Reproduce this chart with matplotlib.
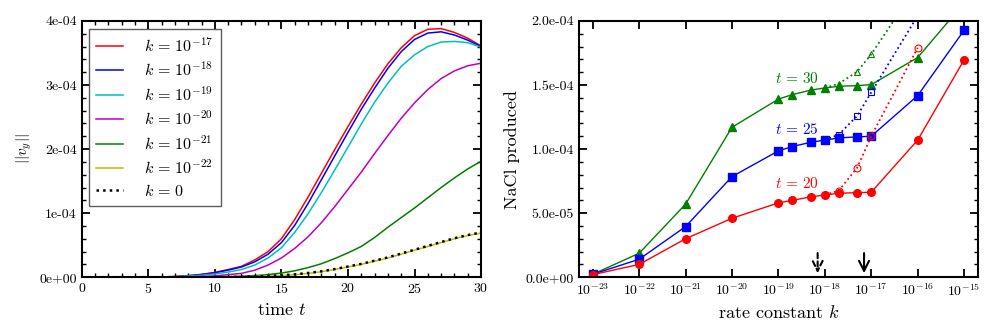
import matplotlib
matplotlib.use('Agg')
import matplotlib.pyplot as plt
import numpy as np
from matplotlib.ticker import MultipleLocator, FormatStrFormatter, LogLocator, NullLocator

plt.rcParams['font.family'] = 'serif'
plt.rcParams['font.serif'] = ['cmr10', 'DejaVu Serif']
plt.rcParams['mathtext.fontset'] = 'cm'
plt.rcParams['axes.unicode_minus'] = False
plt.rcParams['axes.formatter.use_mathtext'] = True

# left panel: ||v_y|| over time, in units of 1e-4
t = np.arange(0, 31)
vy_k17 = [0, 0, 0, 0, 0, 0.002, 0.005, 0.01, 0.025, 0.045, 0.075, 0.12, 0.17, 0.27, 0.40, 0.60,
          0.90, 1.25, 1.62, 1.99, 2.35, 2.70, 3.03, 3.33, 3.58, 3.77, 3.87, 3.88, 3.82, 3.73, 3.61]
vy_k18 = [0, 0, 0, 0, 0, 0.002, 0.005, 0.01, 0.022, 0.04, 0.07, 0.11, 0.16, 0.24, 0.36, 0.54,
          0.81, 1.15, 1.52, 1.89, 2.26, 2.62, 2.95, 3.26, 3.52, 3.71, 3.81, 3.83, 3.78, 3.70, 3.60]
vy_k19 = [0, 0, 0, 0, 0, 0.002, 0.004, 0.008, 0.018, 0.03, 0.05, 0.08, 0.12, 0.19, 0.30, 0.46,
          0.70, 0.99, 1.32, 1.67, 2.03, 2.39, 2.73, 3.03, 3.29, 3.47, 3.60, 3.67, 3.68, 3.66, 3.59]
vy_k20 = [0, 0, 0, 0, 0, 0.001, 0.002, 0.004, 0.007, 0.012, 0.02, 0.04, 0.06, 0.11, 0.19, 0.30,
          0.45, 0.63, 0.85, 1.10, 1.37, 1.64, 1.93, 2.21, 2.48, 2.72, 2.93, 3.10, 3.22, 3.30, 3.34]
vy_k21 = [0, 0, 0, 0, 0, 0, 0.001, 0.001, 0.002, 0.003, 0.005, 0.01, 0.015, 0.025, 0.04, 0.065,
          0.10, 0.15, 0.21, 0.29, 0.38, 0.48, 0.62, 0.78, 0.93, 1.08, 1.24, 1.40, 1.55, 1.69, 1.81]
vy_k22 = [0, 0, 0, 0, 0, 0, 0, 0, 0, 0, 0, 0.002, 0.005, 0.01, 0.015, 0.025,
          0.04, 0.06, 0.085, 0.12, 0.16, 0.20, 0.25, 0.30, 0.36, 0.42, 0.48, 0.54, 0.60, 0.65, 0.69]
vy_k0 = [0, 0, 0, 0, 0, 0, 0, 0, 0, 0, 0, 0.003, 0.006, 0.012, 0.018, 0.03,
         0.045, 0.066, 0.092, 0.127, 0.167, 0.208, 0.258, 0.309, 0.369, 0.429, 0.489, 0.549, 0.608, 0.658, 0.698]
left_series = [(vy_k17, 'r', '-', '$k\\,=\\,10^{-17}$'),
               (vy_k18, 'b', '-', '$k\\,=\\,10^{-18}$'),
               (vy_k19, 'c', '-', '$k\\,=\\,10^{-19}$'),
               (vy_k20, 'm', '-', '$k\\,=\\,10^{-20}$'),
               (vy_k21, 'g', '-', '$k\\,=\\,10^{-21}$'),
               (vy_k22, 'y', '-', '$k\\,=\\,10^{-22}$'),
               (vy_k0, 'k', ':', '$k\\,=\\,0$')]

# right panel: NaCl produced vs rate constant, in units of 1e-5
k = [1e-23, 1e-22, 1e-21, 1e-20, 1e-19, 2e-19, 5e-19, 1e-18, 2e-18, 5e-18, 1e-17, 1e-16, 1e-15]
nacl_t20 = [0.2, 1.0, 3.0, 4.6, 5.8, 6.0, 6.27, 6.42, 6.55, 6.6, 6.63, 10.7, 16.96]
nacl_t25 = [0.23, 1.4, 3.95, 7.85, 9.86, 10.2, 10.53, 10.7, 10.87, 10.95, 11.0, 14.17, 19.27]
nacl_t30 = [0.23, 1.87, 5.7, 11.7, 13.9, 14.25, 14.6, 14.77, 14.9, 14.95, 15.03, 17.14, 21.4]
k_alt = [1e-18, 2e-18, 5e-18, 1e-17, 1e-16]
alt_t20 = [6.42, 6.76, 8.56, 11.0, 17.9]
alt_t25 = [10.7, 11.13, 12.6, 14.43, 20.4]
alt_t30 = [14.77, 15.1, 16.05, 17.4, 22.8]

fig = plt.figure(figsize=(9.97, 3.32), dpi=100)
ax1 = fig.add_axes([0.082, 0.165, 0.4005, 0.772])
ax2 = fig.add_axes([0.5805, 0.165, 0.4005, 0.772])

for vals, c, ls, lab in left_series:
    ax1.plot(t, np.array(vals) * 1e-4, color=c, ls=ls, lw=1.1 if ls == '-' else 1.8, label=lab)
ax1.set_xlim(0, 30)
ax1.set_ylim(0, 4e-4)
ax1.xaxis.set_major_locator(MultipleLocator(5))
ax1.xaxis.set_minor_locator(MultipleLocator(1))
ax1.yaxis.set_major_locator(MultipleLocator(1e-4))
ax1.yaxis.set_minor_locator(MultipleLocator(2e-5))
ax1.yaxis.set_major_formatter(FormatStrFormatter('%.0e'))
ax1.set_xlabel('time $t$', fontsize=13)
ax1.set_ylabel('$||v_y||$', fontsize=11)
leg = ax1.legend(loc='upper left', fontsize=11.5, fancybox=False, handlelength=1.7,
                 handletextpad=1.3, labelspacing=0.38, borderpad=0.45, borderaxespad=0,
                 bbox_to_anchor=(0.018, 0.969))
leg.get_frame().set_edgecolor('#333333')
leg.get_frame().set_linewidth(1.0)

ax2.plot(k, np.array(nacl_t30) * 1e-5, 'g-^', ms=6, mec='g', lw=1.0)
ax2.plot(k, np.array(nacl_t25) * 1e-5, 'b-s', ms=6, mec='b', lw=1.0)
ax2.plot(k, np.array(nacl_t20) * 1e-5, 'r-o', ms=5.5, mec='r', lw=1.0)
ax2.plot(k_alt, np.array(alt_t30) * 1e-5, 'g:^', ms=5, mfc='none', mew=0.8, lw=1.3)
ax2.plot(k_alt, np.array(alt_t25) * 1e-5, 'b:s', ms=5, mfc='none', mew=0.8, lw=1.3)
ax2.plot(k_alt, np.array(alt_t20) * 1e-5, 'r:o', ms=5, mfc='none', mew=0.8, lw=1.3)
ax2.text(2.5e-19, 15.5e-5, '$t\\,=\\,30$', color='g', fontsize=11, ha='center', va='center')
ax2.text(2.5e-19, 11.55e-5, '$t\\,=\\,25$', color='b', fontsize=11, ha='center', va='center')
ax2.text(2.5e-19, 7.33e-5, '$t\\,=\\,20$', color='r', fontsize=11, ha='center', va='center')
ax2.annotate('', xy=(7e-19, 0.1e-5), xytext=(7e-19, 2.1e-5),
             arrowprops=dict(arrowstyle='->', ls=(0, (2.5, 1.5)), lw=1.5, mutation_scale=18, color='k'))
ax2.annotate('', xy=(7e-18, 0.1e-5), xytext=(7e-18, 2.1e-5),
             arrowprops=dict(arrowstyle='->', lw=1.5, mutation_scale=18, color='k'))
ax2.set_xscale('log')
ax2.set_xlim(5e-24, 2e-15)
ax2.set_ylim(0, 2e-4)
ax2.xaxis.set_major_locator(LogLocator(base=10, numticks=20))
ax2.xaxis.set_minor_locator(NullLocator())
ax2.yaxis.set_major_locator(MultipleLocator(5e-5))
ax2.yaxis.set_minor_locator(MultipleLocator(1e-5))
ax2.yaxis.set_major_formatter(FormatStrFormatter('%.1e'))
ax2.set_xlabel('rate constant $k$', fontsize=13)
ax2.set_ylabel('NaCl produced', fontsize=13)

for ax in (ax1, ax2):
    for s in ax.spines.values():
        s.set_linewidth(1.5)
    ax.tick_params(which='both', direction='in', top=True, right=True, labelsize=10)
    ax.tick_params(which='major', length=6, width=1.3)
    ax.tick_params(which='minor', length=3, width=1.0)

fig.savefig('out.png', dpi=100)
